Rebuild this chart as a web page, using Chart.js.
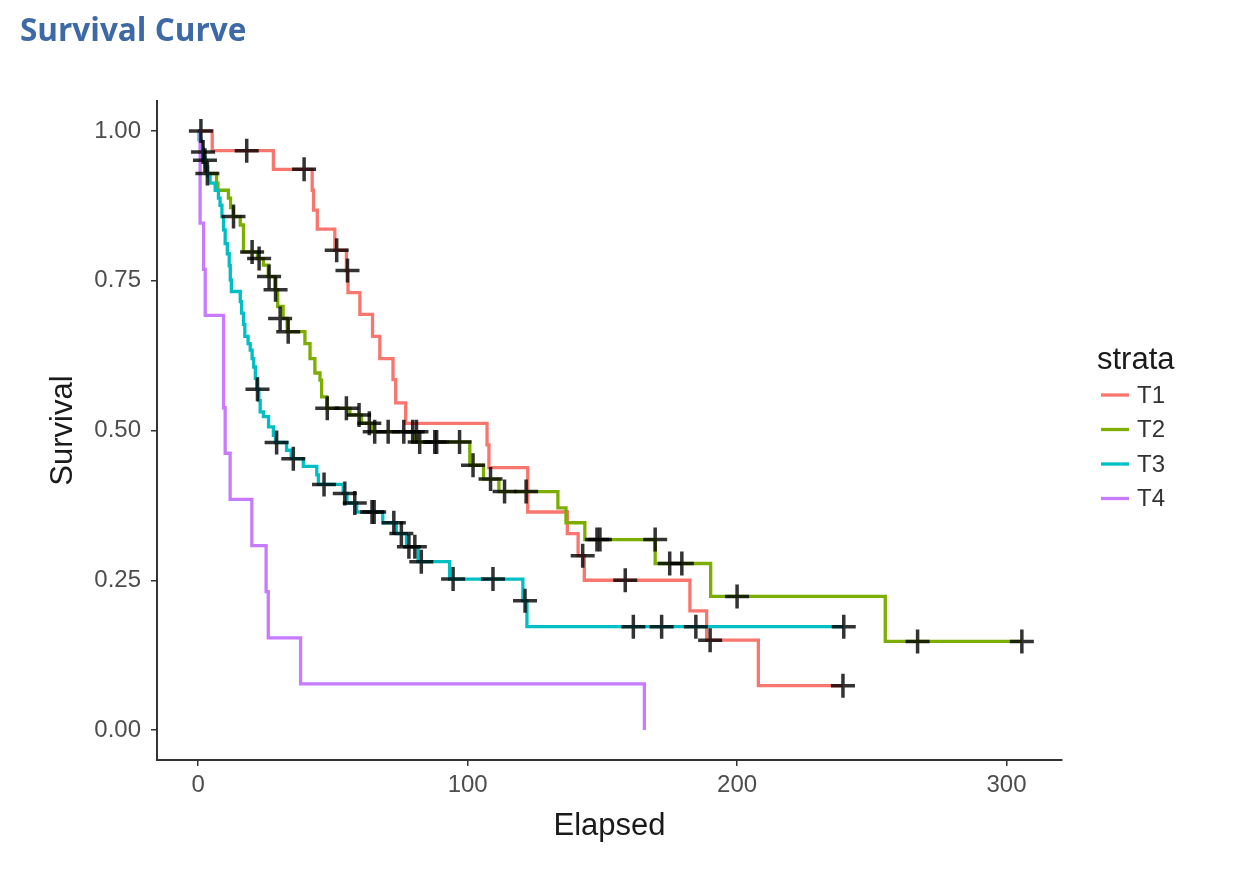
<!DOCTYPE html>
<html><head><meta charset="utf-8">
<script src="https://cdn.jsdelivr.net/npm/chart.js@4.4.1/dist/chart.umd.min.js"></script>
<style>html,body{margin:0;padding:0;background:#fff;}#wrap{position:relative;width:1250px;height:880px;}</style>
</head><body><div id="wrap"><canvas id="c" width="1250" height="880"></canvas></div>
<script>
const titleText = 'Survival Curve';
const xTitle = 'Elapsed';
const yTitle = 'Survival';
const legendTitle = 'strata';
const strataLabels = ['T1', 'T2', 'T3', 'T4'];
const strataColors = ['#F8766D', '#7CAE00', '#00BFC4', '#C77CFF'];
const xTicks = [0, 100, 200, 300];
const yTicks = [0, 0.25, 0.5, 0.75, 1];

const t1Time = [0, 5.2, 27.9, 42.3, 42.8, 44.2, 50.7, 55.0, 55.6, 60.0, 64.7, 67.4, 72.3, 73.3, 77.0, 107.2, 107.9, 122.3, 137.0, 141.0, 143.3, 182.5, 188.7, 207.9, 239.3];
const t1Surv = [1.000, 0.967, 0.936, 0.901, 0.868, 0.836, 0.801, 0.767, 0.730, 0.694, 0.657, 0.620, 0.585, 0.546, 0.512, 0.476, 0.438, 0.364, 0.328, 0.291, 0.250, 0.199, 0.150, 0.074, 0.074];
const t1CensorTime = [1.0, 18.0, 39.3, 51.4, 55.4, 142.7, 158.5, 190.0, 239.3];
const t1CensorSurv = [1.000, 0.967, 0.936, 0.801, 0.767, 0.291, 0.250, 0.150, 0.074];

const t2Time = [0, 0.8, 1.5, 2.2, 3.0, 6.8, 7.3, 11.2, 12.0, 13.0, 15.6, 16.8, 22.0, 24.2, 26.0, 28.5, 29.5, 31.5, 33.0, 39.6, 41.5, 43.3, 45.2, 45.8, 47.7, 56.3, 60.6, 64.3, 80.4, 100.8, 105.9, 111.6, 133.5, 136.5, 143.5, 169.6, 190.2, 255.0, 305.7];
const t2Surv = [1.000, 0.982, 0.965, 0.951, 0.929, 0.913, 0.901, 0.888, 0.872, 0.857, 0.843, 0.798, 0.787, 0.776, 0.757, 0.735, 0.707, 0.687, 0.665, 0.645, 0.620, 0.596, 0.584, 0.556, 0.537, 0.526, 0.512, 0.498, 0.481, 0.442, 0.419, 0.398, 0.371, 0.346, 0.318, 0.278, 0.223, 0.148, 0.148];
const t2CensorTime = [1.8, 2.5, 3.4, 13.1, 20.0, 22.6, 26.3, 28.7, 30.4, 33.4, 47.9, 55.0, 59.7, 63.5, 65.5, 70.5, 76.3, 79.6, 81.0, 82.2, 87.8, 88.5, 97.0, 102.0, 108.5, 113.7, 121.7, 148.0, 149.1, 169.6, 175.0, 179.5, 200.0, 267.0, 305.7];
const t2CensorSurv = [0.965, 0.951, 0.929, 0.857, 0.798, 0.787, 0.757, 0.735, 0.687, 0.665, 0.537, 0.537, 0.526, 0.512, 0.498, 0.498, 0.498, 0.498, 0.498, 0.481, 0.481, 0.481, 0.481, 0.442, 0.419, 0.398, 0.398, 0.318, 0.318, 0.318, 0.278, 0.278, 0.223, 0.148, 0.148];

const t3Time = [0, 0.3, 1.0, 1.8, 2.6, 3.5, 4.4, 6.3, 7.5, 8.1, 8.8, 9.4, 10.0, 10.8, 11.5, 11.9, 12.3, 15.6, 16.1, 16.8, 17.3, 18.5, 19.3, 20.0, 20.6, 21.2, 21.7, 22.5, 23.0, 24.2, 26.1, 27.9, 28.7, 32.8, 34.5, 39.0, 44.0, 44.6, 53.8, 55.2, 58.8, 68.5, 73.5, 77.3, 81.6, 93.3, 120.5, 122.0, 239.6];
const t3Surv = [1.000, 0.985, 0.970, 0.955, 0.940, 0.925, 0.913, 0.901, 0.888, 0.876, 0.857, 0.835, 0.812, 0.795, 0.775, 0.751, 0.732, 0.715, 0.696, 0.677, 0.657, 0.645, 0.634, 0.620, 0.606, 0.587, 0.569, 0.550, 0.531, 0.523, 0.506, 0.492, 0.480, 0.467, 0.453, 0.440, 0.426, 0.410, 0.395, 0.379, 0.364, 0.346, 0.328, 0.306, 0.281, 0.252, 0.216, 0.1725, 0.1725];
const t3CensorTime = [22.0, 29.1, 35.3, 46.7, 54.4, 58.1, 64.5, 65.3, 72.6, 75.4, 78.2, 80.4, 82.8, 94.6, 109.4, 121.3, 161.5, 172.0, 184.7, 239.6];
const t3CensorSurv = [0.569, 0.480, 0.453, 0.410, 0.395, 0.379, 0.364, 0.364, 0.346, 0.328, 0.306, 0.306, 0.281, 0.252, 0.252, 0.216, 0.1725, 0.1725, 0.1725, 0.1725];

const t4Time = [0, 0.7, 2.0, 2.6, 9.4, 10.0, 11.85, 19.9, 25.2, 26.0, 38.0, 165.6];
const t4Surv = [1.000, 0.846, 0.769, 0.692, 0.538, 0.462, 0.385, 0.308, 0.231, 0.154, 0.077, 0.000];

const lineTimes = [t1Time, t2Time, t3Time, t4Time];
const lineSurvs = [t1Surv, t2Surv, t3Surv, t4Surv];
const censorTimes = [t1CensorTime, t2CensorTime, t3CensorTime];
const censorSurvs = [t1CensorSurv, t2CensorSurv, t3CensorSurv];

const toXY = (xs, ys) => xs.map((x, i) => ({x: x, y: ys[i]}));

const datasets = [];
lineTimes.forEach((xs, i) => {
  datasets.push({
    type: 'line', label: strataLabels[i], data: toXY(xs, lineSurvs[i]),
    borderColor: strataColors[i], backgroundColor: strataColors[i],
    borderWidth: 3.3, pointRadius: 0, stepped: 'before', fill: false,
    order: 4 - i
  });
});
censorTimes.forEach((xs, i) => {
  datasets.push({
    type: 'scatter', label: strataLabels[i] + ' censor', data: toXY(xs, censorSurvs[i]),
    pointStyle: 'cross', pointRadius: 12, pointBorderWidth: 3.5, borderWidth: 3.5,
    pointBorderColor: 'rgba(0,0,0,0.8)', borderColor: 'rgba(0,0,0,0.8)',
    backgroundColor: 'rgba(0,0,0,0.8)', showLine: false, order: 0
  });
});

const annot = {
  id: 'annot',
  afterDraw(chart) {
    const ctx = chart.ctx;
    ctx.save();
    ctx.textAlign = 'left';
    ctx.textBaseline = 'alphabetic';
    ctx.fillStyle = '#3d6aa6';
    ctx.font = 'bold 31.5px "Open Sans"';
    ctx.fillText(titleText, 20, 41);
    ctx.fillStyle = '#1a1a1a';
    ctx.font = '31px "Liberation Sans"';
    ctx.fillText(legendTitle, 1097, 369);
    strataLabels.forEach((lab, i) => {
      const y = 395 + i * 34.5;
      ctx.strokeStyle = strataColors[i];
      ctx.lineWidth = 3.3;
      ctx.beginPath(); ctx.moveTo(1101, y); ctx.lineTo(1129, y); ctx.stroke();
      ctx.fillStyle = '#333333';
      ctx.font = '24px "Liberation Sans"';
      ctx.textBaseline = 'middle';
      ctx.fillText(lab, 1137, y + 1);
    });
    ctx.restore();
  }
};

const axisFont = {family: 'Liberation Sans', size: 24};
const titleFont = {family: 'Liberation Sans', size: 31};

new Chart(document.getElementById('c'), {
  type: 'line',
  data: {datasets: datasets},
  plugins: [annot],
  options: {
    responsive: false, animation: false, events: [],
    devicePixelRatio: 1,
    layout: {padding: {left: 0, right: 188, top: 101, bottom: 0}},
    plugins: {legend: {display: false}, tooltip: {enabled: false}, title: {display: false}},
    scales: {
      x: {
        type: 'linear', min: -15.3, max: 320.6,
        afterBuildTicks: s => { s.ticks = xTicks.map(v => ({value: v})); },
        afterFit: s => { s.height = 120; },
        grid: {drawOnChartArea: false, drawTicks: true, tickLength: 6, color: '#333333', lineWidth: 1.5},
        border: {display: true, color: '#333333', width: 2},
        ticks: {padding: 5, color: '#4d4d4d', font: axisFont, maxRotation: 0, autoSkip: false, callback: v => String(v)},
        title: {display: true, text: xTitle, color: '#1a1a1a', font: titleFont, padding: {top: 0, bottom: 35}}
      },
      y: {
        type: 'linear', min: -0.05, max: 1.05,
        afterBuildTicks: s => { s.ticks = yTicks.map(v => ({value: v})); },
        afterFit: s => { s.width = 157; },
        grid: {drawOnChartArea: false, drawTicks: true, tickLength: 6, color: '#333333', lineWidth: 1.5},
        border: {display: true, color: '#333333', width: 2},
        ticks: {padding: 10, color: '#4d4d4d', font: axisFont, autoSkip: false, callback: v => Number(v).toFixed(2)},
        title: {display: true, text: yTitle, color: '#1a1a1a', font: titleFont, padding: {top: 45, bottom: 0}}
      }
    }
  }
});
</script></body></html>
